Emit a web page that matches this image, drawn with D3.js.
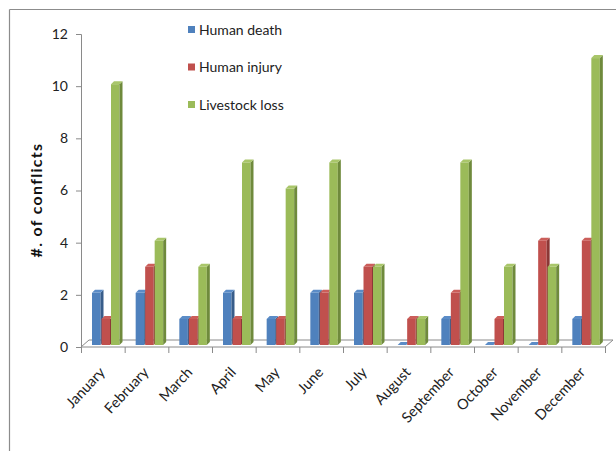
<!DOCTYPE html>
<html>
<head>
<meta charset="utf-8">
<script src="https://cdn.jsdelivr.net/npm/d3@7/dist/d3.min.js"></script>
<style>
  html, body { margin: 0; padding: 0; background: #fff; }
  svg { display: block; font-family: Lato, "Open Sans", sans-serif; }
</style>
</head>
<body>
<svg id="chart" width="616" height="451"></svg>
<script>
// Monthly conflict counts by type
const months = ["January", "February", "March", "April", "May", "June",
                "July", "August", "September", "October", "November", "December"];
const humanDeath   = [2, 2, 1, 2, 1, 2, 2, 0, 1, 0, 0, 1];
const humanInjury  = [1, 3, 1, 1, 1, 2, 3, 1, 2, 1, 4, 4];
const livestockLoss = [10, 4, 3, 7, 6, 7, 3, 1, 7, 3, 3, 11];
const seriesNames = ["Human death", "Human injury", "Livestock loss"];
const yTicks = [0, 2, 4, 6, 8, 10, 12];

const series = [
  { name: seriesNames[0], values: humanDeath,   front: "#4f81bd", side: "#385d8a", top: "#5b8cc7" },
  { name: seriesNames[1], values: humanInjury,  front: "#c0504d", side: "#8c3836", top: "#cb5e5a" },
  { name: seriesNames[2], values: livestockLoss, front: "#9bbb59", side: "#6f8a3c", top: "#a9c66a" }
];

const svg = d3.select("#chart");
const axisColor = "#8a8a8a";

// plot frame
const plotLeft = 81, plotRight = 605, plotTop = 34, plotBottom = 347;
const depthX = 8, depthY = 7;

svg.append("line").attr("x1", 9.5).attr("x2", 616).attr("y1", 9.5).attr("y2", 9.5)
  .attr("stroke", "#8c8c8c").attr("stroke-width", 1.2);
svg.append("line").attr("x1", 9.5).attr("x2", 9.5).attr("y1", 9.5).attr("y2", 451)
  .attr("stroke", "#8c8c8c").attr("stroke-width", 1.2);

const x = d3.scaleBand().domain(months).range([plotLeft, plotRight]).padding(0);
const y = d3.scaleLinear().domain([0, 12]).range([plotBottom, plotTop]);

// floor of the 3D plot
svg.append("path")
  .attr("d", `M${plotLeft},${plotBottom}L${plotRight},${plotBottom}L${plotRight + depthX},${plotBottom - depthY}L${plotLeft + depthX},${plotBottom - depthY}Z`)
  .attr("fill", "none").attr("stroke", axisColor).attr("stroke-width", 1);

// y axis
const yAxis = d3.axisLeft(y).tickValues(yTicks).tickSize(5).tickPadding(8);
const gy = svg.append("g").attr("transform", `translate(${plotLeft},0)`).call(yAxis);
gy.select(".domain").attr("stroke", axisColor);
gy.selectAll(".tick line").attr("stroke", axisColor);
gy.selectAll(".tick text").attr("font-size", 14).attr("fill", "#222")
  .attr("font-family", "Lato, sans-serif");

// x axis: ticks at category boundaries
const boundaries = months.map(m => x(m)).concat([plotRight]);
svg.append("g").selectAll("line").data(boundaries).join("line")
  .attr("x1", d => d + 0.5).attr("x2", d => d + 0.5)
  .attr("y1", plotBottom).attr("y2", plotBottom + 6)
  .attr("stroke", axisColor);

svg.append("g").selectAll("text").data(months).join("text")
  .attr("transform", d => `translate(${x(d) + x.bandwidth() / 2 + 3},${plotBottom + 26}) rotate(-47)`)
  .attr("text-anchor", "end")
  .attr("font-size", 14.5)
  .attr("fill", "#222")
  .text(d => d);

// 3D bars
const barW = 8.5, pitch = 9.5, d = 3, groupOffset = 11, lift = 2;
const bars = svg.append("g");
months.forEach((m, i) => {
  series.forEach((s, j) => {
    const v = s.values[i];
    const x0 = x(m) + groupOffset + j * pitch;
    const x1 = x0 + barW;
    const yb = y(0) - lift;
    const yt = y(v) - lift;
    const g = bars.append("g");
    if (v > 0) {
      g.append("rect").attr("x", x0).attr("y", yt).attr("width", barW).attr("height", yb - yt)
        .attr("fill", s.front);
      g.append("path")
        .attr("d", `M${x1},${yt}L${x1 + d},${yt - d}L${x1 + d},${yb - d}L${x1},${yb}Z`)
        .attr("fill", s.side);
    }
    g.append("path")
      .attr("d", `M${x0},${yt}L${x1},${yt}L${x1 + d},${yt - d}L${x0 + d},${yt - d}Z`)
      .attr("fill", s.top);
  });
});

// axis title
svg.append("text")
  .attr("transform", "translate(42,200) rotate(-90)")
  .attr("text-anchor", "middle")
  .attr("font-size", 16)
  .attr("font-weight", "bold")
  .attr("letter-spacing", 1.3)
  .attr("fill", "#111")
  .text("#. of  conflicts");

// legend
const legend = svg.append("g");
series.forEach((s, j) => {
  const ly = 30 + j * 37.5;
  legend.append("rect").attr("x", 188).attr("y", ly - 4).attr("width", 7).attr("height", 7).attr("fill", s.front);
  legend.append("text").attr("x", 199).attr("y", ly).attr("dy", "0.35em")
    .attr("font-size", 14).attr("fill", "#222").text(s.name);
});
</script>
</body>
</html>
